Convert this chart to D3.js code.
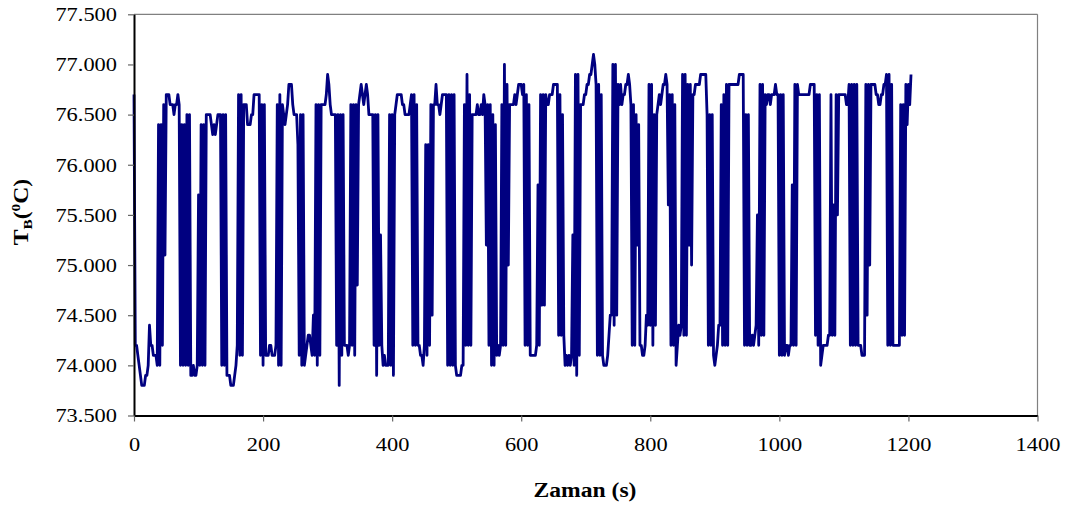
<!DOCTYPE html>
<html>
<head>
<meta charset="utf-8">
<script src="https://cdn.jsdelivr.net/npm/d3@7"></script>
<style>
  html, body { margin: 0; padding: 0; background: #ffffff; }
  svg { display: block; }
</style>
</head>
<body>
<div id="chart"></div>
<script>
// ---- DATA ----
// Sampling step of the recorded series (s)
const timeStep = 2;
// Temperature T_B (°C), one value every 2 s from t = 0 s
const temperature = [
  76.7,74.2,74.2,74.1,74.0,73.9,73.8,73.8,73.8,73.9,
  73.9,74.0,74.4,74.2,74.2,74.1,74.1,74.1,74.0,76.4,
  74.0,76.4,74.2,76.6,75.1,76.7,76.7,76.7,76.6,76.6,
  76.6,76.5,76.6,76.6,76.7,76.6,74.0,76.4,74.0,76.4,
  74.0,76.5,74.0,76.5,73.9,73.9,74.0,73.9,73.9,74.0,
  75.7,74.0,76.4,74.0,76.4,74.0,76.5,76.5,76.5,76.5,
  76.4,76.3,76.4,76.3,76.4,76.5,76.5,76.5,74.0,76.5,
  74.0,76.5,73.9,73.9,73.9,73.8,73.8,73.8,73.9,74.0,
  74.2,76.7,74.1,76.7,74.1,76.6,76.6,76.6,76.4,76.4,
  76.4,76.5,76.5,76.7,76.7,76.7,76.7,76.7,74.1,76.6,
  74.0,76.6,74.1,74.1,74.1,74.2,74.2,74.1,74.1,74.1,
  74.2,76.6,74.0,76.7,74.0,76.6,76.5,76.4,76.5,76.6,
  76.8,76.8,76.8,76.6,76.5,76.5,76.5,76.2,74.1,76.5,
  74.0,76.5,74.0,74.1,74.2,74.3,74.3,74.2,74.1,74.5,
  74.1,76.6,74.0,76.6,74.1,76.6,76.6,76.6,76.6,76.7,
  76.9,76.8,76.6,76.5,76.5,76.5,76.5,74.2,76.5,73.8,
  76.5,74.1,76.5,74.2,74.2,74.2,74.1,74.2,76.6,74.2,
  76.6,74.1,76.6,74.8,76.6,76.7,76.8,76.7,76.6,76.7,
  76.8,76.7,76.5,76.5,76.5,76.5,74.2,76.5,73.9,76.5,
  74.2,75.3,74.2,74.0,74.1,74.0,74.0,74.0,76.5,74.0,
  76.5,73.9,76.5,76.6,76.7,76.7,76.7,76.7,76.6,76.6,
  76.5,76.5,76.5,76.5,76.6,76.7,74.2,76.7,74.2,76.6,
  74.2,74.2,74.1,74.1,74.0,74.2,76.2,74.1,76.2,74.2,
  76.6,74.5,76.6,76.6,76.8,76.6,76.6,76.5,76.6,76.7,
  76.7,76.7,76.7,74.0,76.7,74.0,76.7,74.0,76.7,74.0,
  73.9,73.9,73.9,73.9,74.0,74.0,76.6,74.2,76.9,74.2,
  76.7,74.2,76.5,76.5,76.5,76.5,76.6,76.5,76.5,76.6,
  76.5,76.7,76.6,75.2,76.6,74.2,76.6,74.0,76.5,74.0,
  76.4,74.1,74.2,74.1,74.2,76.6,74.2,77.0,74.2,76.8,
  75.0,76.6,76.6,76.6,76.6,76.7,76.6,76.7,76.8,76.8,
  76.8,76.7,76.8,74.2,76.7,74.2,76.6,74.1,74.1,74.1,
  74.1,74.1,74.2,75.8,74.2,76.7,74.6,76.7,74.6,76.7,
  76.6,76.6,76.7,76.7,76.7,76.8,76.8,76.8,76.8,74.3,
  76.7,74.3,76.5,74.3,74.0,74.1,74.0,74.1,74.0,74.1,
  75.3,74.0,76.9,73.9,76.9,74.1,76.6,76.6,76.6,76.7,
  76.7,76.8,76.8,76.9,76.9,77.0,77.1,77.0,76.8,74.1,
  76.8,74.1,76.7,74.1,74.0,74.0,74.0,74.1,74.3,74.5,
  74.5,77.0,74.4,77.0,74.5,76.8,76.6,76.8,76.6,76.7,
  76.7,76.8,76.8,76.9,76.8,76.6,74.2,76.6,74.2,76.5,
  75.2,76.4,74.2,74.2,74.1,74.1,74.2,74.5,74.4,76.8,
  74.4,76.8,74.2,76.5,74.4,76.5,76.6,76.7,76.6,76.7,
  76.8,76.8,76.9,76.8,75.6,76.7,74.2,76.7,74.2,76.6,
  74.0,74.2,74.4,74.3,74.4,76.9,74.3,76.9,74.3,76.8,
  75.2,76.8,75.0,76.7,76.7,76.8,76.8,76.8,76.8,76.9,
  76.9,76.9,76.9,76.9,76.5,74.2,76.5,74.2,76.5,74.1,
  74.0,74.1,74.2,74.4,74.4,76.6,74.2,76.7,74.2,76.8,
  74.2,76.8,76.8,76.8,76.8,76.8,76.8,76.8,76.8,76.9,
  76.9,76.9,76.9,74.2,76.5,74.2,76.5,74.2,74.2,74.3,
  74.2,74.3,74.4,75.5,74.2,76.8,74.3,76.8,74.3,76.7,
  76.6,76.7,76.7,76.6,76.7,76.7,76.7,76.8,76.7,76.7,
  74.1,76.7,74.1,76.7,74.1,74.2,74.2,74.1,74.2,74.2,
  75.8,74.2,76.8,74.2,76.8,76.7,76.7,76.7,76.7,76.7,
  76.7,76.7,76.7,76.7,76.8,76.8,76.8,76.8,74.3,76.7,
  74.2,76.7,74.0,74.1,74.2,74.2,74.2,74.2,74.3,74.3,
  76.7,74.3,75.6,74.3,76.7,75.5,76.7,76.7,76.7,76.7,
  76.7,76.7,76.6,76.6,76.8,74.2,76.8,74.2,76.8,74.2,
  76.8,74.2,74.2,74.2,74.1,74.1,74.1,76.8,74.5,76.8,
  75.0,76.8,76.8,76.8,76.8,76.7,76.7,76.6,76.6,76.7,
  76.7,76.8,76.8,76.9,74.2,76.9,74.2,76.8,74.2,74.2,
  74.2,74.2,74.2,74.2,76.6,74.3,76.6,74.3,76.8,76.4,
  76.8,76.6,76.9
];
const xTicks = [0, 200, 400, 600, 800, 1000, 1200, 1400];
const yTicks = [73.5, 74.0, 74.5, 75.0, 75.5, 76.0, 76.5, 77.0, 77.5];
const xLabel = "Zaman (s)";

// ---- CHART ----
(function () {
const W = 1066, H = 509;
const mLeft = 134, mRight = 1037.5, mTop = 14.3, mBottom = 415.5;
const stretch = 1.18; // fonts are drawn horizontally widened in the original

const series = temperature.map((v, i) => ({ t: i * timeStep, v }));

const svg = d3.select("#chart").append("svg")
  .attr("width", W).attr("height", H)
  .style("background", "#fff");

const x = d3.scaleLinear().domain([0, 1400]).range([mLeft, mRight]);
const y = d3.scaleLinear().domain([73.5, 77.5]).range([mBottom, mTop]);

// frame: top & right gray
svg.append("line").attr("x1", mLeft).attr("x2", mRight).attr("y1", mTop).attr("y2", mTop)
  .attr("stroke", "#808080").attr("stroke-width", 1.2);
svg.append("line").attr("x1", mRight).attr("x2", mRight).attr("y1", mTop).attr("y2", mBottom)
  .attr("stroke", "#808080").attr("stroke-width", 1.2);

// data line
const line = d3.line().x(d => x(d.t)).y(d => y(d.v));
svg.append("path").datum(series)
  .attr("d", line)
  .attr("fill", "none")
  .attr("stroke", "#000080")
  .attr("stroke-width", 2.8)
  .attr("stroke-linejoin", "round");

// axes
const fontFam = "'Liberation Serif','Times New Roman',serif";

const yAxis = svg.append("g").attr("transform", `translate(${mLeft},0)`)
  .call(d3.axisLeft(y).tickValues(yTicks).tickFormat(d3.format(".3f")).tickSize(6).tickSizeOuter(0));
yAxis.select(".domain").attr("stroke", "#000").attr("stroke-width", 2);
yAxis.selectAll(".tick line").attr("stroke", "#666").attr("stroke-width", 1.2);
yAxis.selectAll(".tick text")
  .attr("x", null).attr("dy", null)
  .attr("transform", `translate(-17,6.3) scale(${stretch},1)`)
  .attr("text-anchor", "end")
  .style("font-family", fontFam).style("font-size", "19px").attr("fill", "#000");

const xAxis = svg.append("g").attr("transform", `translate(0,${mBottom})`)
  .call(d3.axisBottom(x).tickValues(xTicks).tickFormat(d3.format("d")).tickSize(6).tickSizeOuter(0));
xAxis.select(".domain").attr("stroke", "#000").attr("stroke-width", 2);
xAxis.selectAll(".tick line").attr("stroke", "#666").attr("stroke-width", 1.2);
xAxis.selectAll(".tick text")
  .attr("y", null).attr("dy", null)
  .attr("transform", `translate(0,35.5) scale(${stretch},1)`)
  .attr("text-anchor", "middle")
  .style("font-family", fontFam).style("font-size", "19px").attr("fill", "#000");

// axis titles
svg.append("text")
  .attr("transform", `translate(585,497) scale(${stretch},1)`)
  .attr("text-anchor", "middle")
  .style("font-family", fontFam).style("font-size", "20px").style("font-weight", "bold")
  .text(xLabel);

const yt = svg.append("text")
  .attr("transform", `translate(28,212) rotate(-90) scale(${stretch},1)`)
  .attr("text-anchor", "middle")
  .style("font-family", fontFam).style("font-size", "20px").style("font-weight", "bold");
yt.append("tspan").text("T");
yt.append("tspan").attr("dy", 4).style("font-size", "13px").text("B");
yt.append("tspan").attr("dy", -4).text("(");
yt.append("tspan").attr("dy", -8).style("font-size", "13px").text("0");
yt.append("tspan").attr("dy", 8).text("C)");
})();
</script>
</body>
</html>
